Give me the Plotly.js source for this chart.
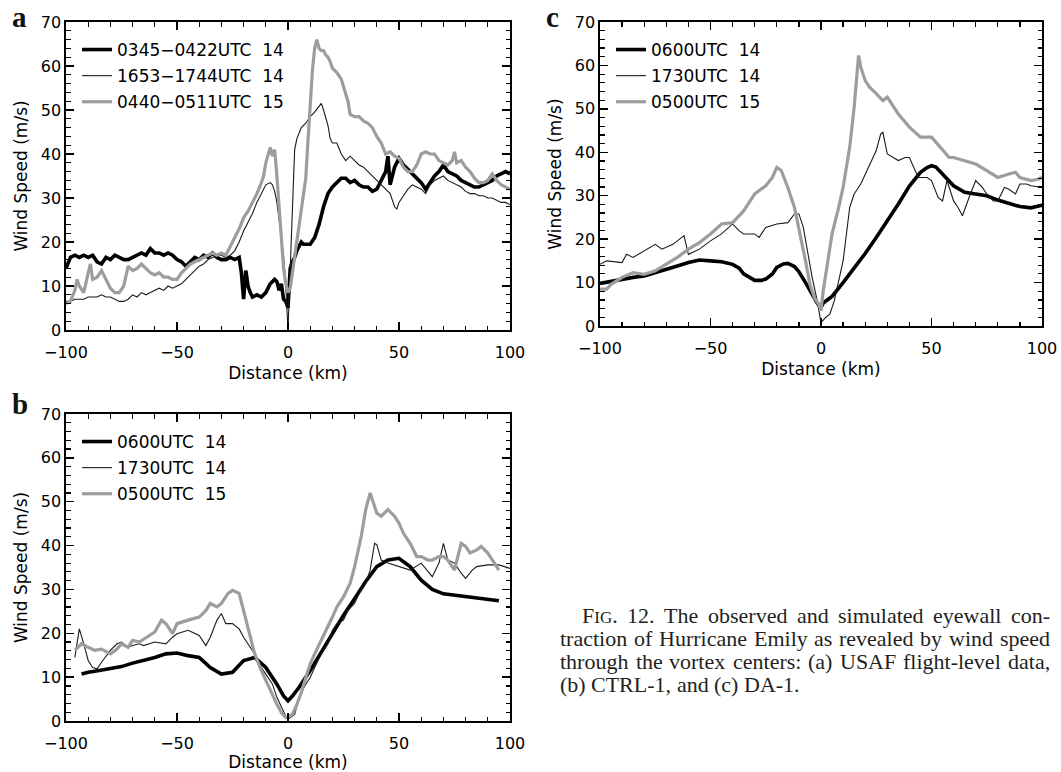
<!DOCTYPE html>
<html><head><meta charset="utf-8">
<script src="https://cdn.plot.ly/plotly-3.0.1.min.js"></script>
<style>html,body{margin:0;padding:0;background:#fff;} #chart{width:1061px;height:772px;}</style>
</head><body><div id="chart"></div>
<script>
// ---------- DATA ----------
// Panel a: USAF flight-level data
const a_names = ["0345\u22120422UTC\u00a0\u00a014", "1653\u22121744UTC\u00a0\u00a014", "0440\u22120511UTC\u00a0\u00a015"];
const a1_dist = [-100,-98,-96,-94,-92,-90,-88,-86,-84,-82,-80,-78,-76,-74,-72,-70,-68,-66,-64,-62,-60,-58,-56,-54,-52,-50,-48,-46,-44,-42,-40,-38,-36,-34,-32,-30,-28,-26,-24,-22,-21,-20,-19,-18,-17,-16,-14,-12,-10,-8,-6,-5,-4,-3,-2,-1,0,1,2,3,4,5,6,7,8,10,12,14,16,18,20,22,24,26,28,30,32,34,36,38,40,42,44,45,46,47,48,50,52,54,56,58,60,62,64,66,68,70,72,74,76,78,80,82,84,86,88,90,92,94,96,98,100];
const a1_wind = [14,16.5,17,16.5,17,16.5,17,15.5,15,16.5,16,17,16.5,16,16,16.5,17,17.5,17,18.5,17.5,17.5,17,17.5,17,16,15.5,14.5,15.5,16.5,16,17,16.5,17.5,16.5,16,16,16.5,16,16.5,13,7,13.5,10,8.5,7.5,8,7.5,8.5,10.5,11.5,11,9,10.5,7,6.5,5,14,15.5,16.5,18,19,20,19.5,19.5,19.5,21,24,28,31,32.5,33.5,34.5,34.5,33.5,34,33,32.5,32.5,31.5,32,34,36,39.5,33,35,37,39,37.5,36.5,35.5,34.5,33.5,32,33.5,35,36,37.5,36,35.5,35,34,33.5,33,32.5,32.5,33,33.5,34,35,35.5,36,35.5];
const a2_dist = [-100,-98,-96,-94,-92,-90,-88,-86,-84,-82,-80,-78,-76,-74,-72,-70,-68,-66,-64,-62,-60,-58,-56,-54,-52,-50,-48,-46,-44,-42,-40,-38,-36,-34,-32,-30,-28,-26,-24,-22,-20,-18,-16,-14,-12,-10,-8,-7,-6,-5,-4,-3,-2,-1,0,1,2,3,4,5,6,8,10,12,14,15,16,17,18,19,20,22,24,26,28,30,32,34,36,38,40,42,44,46,48,49,50,52,54,56,58,60,62,64,66,68,70,72,74,76,78,80,82,84,86,88,90,92,94,96,98,100];
const a2_wind = [6.5,6.5,7,7,7,7.5,7.5,7.5,8,7.5,7.5,7,6.5,6.5,7,8,7.5,8.5,8,8.5,9,9.5,9,10,9.5,10,10.5,11.5,12.5,13.5,14.5,15,16,16.5,17,17,16.5,17,18,20,22.5,24.5,26.5,29,31,33,33.5,33,31.5,29,25,21,17,10,0,14,30,41,43.5,45,46,47,48.5,49.5,51,51.5,50,48.5,46.5,43.5,42.5,42.5,40,38.5,39.5,38.5,37.5,37,36,35,34,33,32,31,28,27.5,29,30.5,32,33,32.5,32,31,33,34,34.5,35,34,33.5,33,32.5,31.5,31,31,30.5,30.5,30,30,29.5,29,29,28.5];
const a3_dist = [-100,-98,-96,-95,-94,-92,-90,-89,-88,-86,-84,-82,-80,-78,-76,-74,-72,-70,-68,-66,-64,-62,-60,-58,-56,-54,-52,-50,-48,-46,-44,-42,-40,-38,-36,-34,-32,-30,-28,-26,-24,-22,-20,-18,-16,-14,-12,-11,-10,-9,-8,-7,-6,-5,-4,-3,-2,-1,0,1,2,3,4,5,6,7,8,9,10,11,12,13,14,15,16,17,18,19,20,22,24,26,27,28,30,32,34,36,38,40,42,44,46,48,50,52,54,56,58,60,62,64,66,68,70,72,74,75,76,78,80,82,84,86,88,90,92,94,96,98,100];
const a3_wind = [6,6.5,9,11.5,10,8.5,13,15,11.5,12,13.5,11.5,9.5,8.5,8.5,10,14.5,13.5,14,15,14,13,12.5,13,12,12,11.5,11.5,13,14,15,15.5,16,16.5,17,17.5,17,17.5,17,19,21,23,25.5,27,29,31,33.5,35,38,40,41.5,39.5,41,35,28,20,14,10.5,8.5,9.5,13,17,21,24,27.5,31,34.5,43,52,59,64,66,64,63.5,63.5,62.5,62,61,59.5,58.5,57,54,52,49,48.5,48.5,47.5,47,46,44,42.5,40,40.5,39.5,39,37,36,36,37.5,40,40.5,40,40,38.5,38,37.5,38.5,40.5,38,38.5,37,36,34.5,33.5,33.5,34,35.5,34,33,32.5,32];

// Panel b: CTRL-1
const bc_names = ["0600UTC\u00a0\u00a014", "1730UTC\u00a0\u00a014", "0500UTC\u00a0\u00a015"];
const b1_dist = [-93,-90,-85,-80,-75,-70,-65,-60,-55,-50,-45,-40,-35,-30,-25,-20,-15,-10,-5,-2,0,2,5,10,15,20,25,30,35,40,45,50,55,60,65,70,75,80,85,90,95];
const b1_wind = [10.7,11.1,11.5,11.9,12.4,13.2,13.8,14.5,15.3,15.5,14.9,14.5,12.2,10.7,11.1,13.8,14.5,12.2,8.4,5.7,4.6,5.7,7.7,11.5,15.7,19.9,24.1,27.9,31.8,35.2,36.7,37.1,35.2,32.1,30,29,28.7,28.3,28,27.7,27.4];
const b2_dist = [-96,-94,-92,-90,-88,-86,-84,-80,-77,-75,-72,-70,-67,-65,-60,-55,-52,-50,-45,-40,-37,-35,-32,-30,-28,-25,-22,-20,-15,-12,-10,-7,-5,-3,-1,0,3,4,6,8,10,12,15,18,20,22,25,27,30,32,35,37,39,40,42,45,50,55,60,63,65,68,70,72,75,78,80,83,85,90,95,100];
const b2_wind = [14.5,21,17.6,13.8,12.2,11.9,13.4,16.1,17.6,18,16.8,17.2,17.6,17.2,18,17.6,19.1,19.9,20.7,19.5,17.2,19.1,23,24.5,22.2,22.2,21,19.1,15.3,12.2,10.7,8.4,5.4,3.1,1.1,0.4,1.5,3.4,6.5,8.4,9.9,12.2,15.3,17.6,20.7,22.2,23,25.2,26.8,29.1,31.4,34.4,40.5,40.2,36.7,36,35.2,34.4,36,34,32.9,36,40.5,36.7,36,33.7,32.5,34.4,35.2,35.6,35.6,34.8];
const b3_dist = [-96,-93,-90,-87,-84,-80,-77,-75,-72,-70,-67,-65,-60,-57,-55,-52,-50,-45,-40,-37,-35,-32,-30,-27,-25,-22,-20,-17,-15,-12,-10,-7,-5,-3,-1,0,2,4,6,8,10,12,15,18,20,22,25,28,30,33,35,37,38,40,42,45,48,50,52,55,58,60,63,65,68,70,72,75,78,80,82,85,87,90,93,95];
const b3_wind = [16.1,17.6,16.8,16.1,16.4,15.3,16.4,17.6,16.8,18.4,18,18.7,20.3,23,22.2,19.9,22.2,23,23.7,25.2,26.8,26,26.8,29.1,29.8,29.1,25.2,19.1,15.3,11.5,9.2,6.1,3.8,1.9,0.8,0.9,1.5,3.8,6.5,9.9,13,15.3,18.4,21.4,23.7,26,28.3,31.4,35.2,42.1,48.2,52,50.5,47.4,46.7,48.2,46.7,45.1,42.8,40.5,37.5,37.5,36.7,36.7,37.5,37.5,36.7,34.4,40.5,39.8,38.3,39,39.8,38.3,36,34.4];

// Panel c: DA-1
const c1_dist = [-100,-95,-90,-85,-80,-75,-70,-65,-60,-55,-50,-45,-40,-37,-35,-32,-30,-27,-25,-22,-20,-17,-15,-12,-10,-7,-5,-3,-2,-1,0,1,3,5,10,15,20,25,30,35,40,45,48,50,52,55,60,65,70,75,80,85,90,95,100];
const c1_wind = [9.8,10.3,10.8,11.2,11.5,12.2,13.1,13.8,14.6,15.2,15,14.8,14.2,13.3,12,11,10.5,10.5,10.8,12,13.5,14.3,14.4,13.7,12.5,10,8.1,6.3,5.5,4.8,4.2,5.3,6,6.8,10,13.2,16.7,20.4,24.2,28.1,32.2,35.4,36.5,36.9,36.6,35,32.3,30.8,30.4,30,29,28.2,27.5,27.2,27.8];
const c2_dist = [-100,-97,-90,-88,-85,-80,-75,-72,-70,-67,-65,-62,-60,-55,-50,-45,-40,-37,-35,-30,-28,-25,-20,-15,-12,-10,-8,-6,-4,-2,0,2,4,6,8,10,13,15,18,20,22,25,27,28,30,33,35,38,40,42,44,48,50,53,55,57,60,62,64,67,70,73,75,78,80,83,85,88,90,93,95,100];
const c2_wind = [14.2,15,14.6,16.5,15.8,17.3,18.8,17.7,18.1,18.8,19.6,20.8,16.5,17.7,19.6,21.2,23.5,21.9,21.2,21.2,20.4,22.7,23.5,23.8,25.8,25.8,22.7,16.5,11.2,6.5,0.8,1.9,2.7,5.8,10.4,15,27.3,30.4,32.7,35,37.3,40.4,44.2,44.6,39.6,38.8,38.1,38.8,38.8,36.5,34.2,34.2,33.5,29.6,28.8,33.5,28.8,27.3,25.4,29.6,33.5,31.9,30.4,28.8,28.8,31.9,31.5,30.4,32.7,32.7,32.3,31.9];
const c3_dist = [-100,-97,-95,-90,-85,-80,-75,-70,-65,-60,-55,-50,-45,-40,-35,-30,-25,-22,-20,-18,-15,-12,-10,-7,-5,-3,-1,0,1,3,5,8,10,13,15,17,18,20,22,25,28,30,33,35,40,45,50,55,58,60,65,70,75,80,85,88,90,95,98,100];
const c3_wind = [8.5,8.5,9.6,11.2,12.3,11.9,12.7,14.2,15.8,17.7,19.2,21.2,23.5,23.8,26.5,30.4,32.3,34.2,36.5,35.8,31.9,27.3,22.7,15,9.6,6.5,5,3.5,8.1,15,21.2,27.3,31.9,41.2,50.4,62.3,59.6,56.5,55,53.5,51.9,52.7,50.4,48.8,45.8,43.5,43.5,40.4,38.8,38.8,38.1,37.3,35.8,34.2,35,35.4,34.2,33.5,33.8,34.2];

// ---------- LAYOUT HELPERS ----------
const W = 1061, H = 772;
const FONT = "DejaVu Sans";
const SERIF = "Liberation Serif";
const panels = {
  a: {l: 66, r: 510, t: 22, b: 330},
  b: {l: 66, r: 510, t: 414, b: 721},
  c: {l: 600, r: 1042, t: 22, b: 326}
};
const styles = [
  {color: "#000000", width: 3.6},
  {color: "#1a1a1a", width: 1.1},
  {color: "#9d9d9d", width: 3.2}
];
function yfrac(p) { return 1 - p / H; }

// frame axis: box with inward major + minor ticks, no labels
function xFrame(p, anchor) {
  return {
    domain: [p.l / W, p.r / W], anchor: anchor, range: [-100, 100],
    tick0: -100, dtick: 50, ticks: "inside", ticklen: 8, tickwidth: 1.4, tickcolor: "#000",
    showline: true, linecolor: "#000", linewidth: 1.6, mirror: "ticks",
    showgrid: false, zeroline: false, showticklabels: false,
    minor: {tick0: -100, dtick: 10, ticks: "inside", ticklen: 4.5, tickwidth: 1.2, tickcolor: "#000", showgrid: false},
    fixedrange: true
  };
}
// label axis overlaid on the frame axis: carries the tick labels and title, set a bit below the frame
function xLabels(over, anchor) {
  return {
    overlaying: over, anchor: anchor, side: "bottom", range: [-100, 100],
    tick0: -100, dtick: 50, ticks: "outside", ticklen: 8, tickcolor: "rgba(0,0,0,0)",
    showline: false, showgrid: false, zeroline: false,
    tickfont: {family: FONT, size: 16, color: "#000"},
    title: {text: "Distance (km)", font: {family: FONT, size: 17, color: "#000"}, standoff: 5},
    fixedrange: true
  };
}
function yAxis(p, anchor) {
  return {
    domain: [1 - p.b / H, 1 - p.t / H], anchor: anchor, range: [0, 70],
    tick0: 0, dtick: 10, ticks: "inside", ticklen: 8, tickwidth: 1.4, tickcolor: "#000",
    showline: true, linecolor: "#000", linewidth: 1.6, mirror: "ticks",
    showgrid: false, zeroline: false,
    tickfont: {family: FONT, size: 16, color: "#000"},
    minor: {tick0: 0, dtick: 2, ticks: "inside", ticklen: 4.5, tickwidth: 1.2, tickcolor: "#000", showgrid: false},
    title: {text: "Wind Speed (m/s)", font: {family: FONT, size: 17, color: "#000"}, standoff: 9},
    fixedrange: true
  };
}
function legendBox(p) {
  return {
    x: (p.l + 11) / W, y: yfrac(p.t + 10), xanchor: "left", yanchor: "top",
    bgcolor: "rgba(0,0,0,0)", borderwidth: 0,
    font: {family: FONT, size: 17, color: "#000"},
    traceorder: "grouped", tracegroupgap: 1
  };
}

const traces = [];
function addSet(dists, winds, names, xa, ya, leg, tag) {
  for (let i = 0; i < 3; i++) {
    traces.push({
      type: "scatter", mode: "lines", x: dists[i], y: winds[i], name: names[i],
      xaxis: xa, yaxis: ya, legend: leg, legendgroup: tag + i,
      line: {color: styles[i].color, width: styles[i].width}, hoverinfo: "skip"
    });
  }
}
addSet([a1_dist, a2_dist, a3_dist], [a1_wind, a2_wind, a3_wind], a_names, "x", "y", "legend", "a");
addSet([b1_dist, b2_dist, b3_dist], [b1_wind, b2_wind, b3_wind], bc_names, "x2", "y2", "legend2", "b");
addSet([c1_dist, c2_dist, c3_dist], [c1_wind, c2_wind, c3_wind], bc_names, "x3", "y3", "legend3", "c");
// empty placeholder traces so that the overlaid label axes are drawn (they carry no data)
[["x4", "y"], ["x5", "y2"], ["x6", "y3"]].forEach(function (p) {
  traces.push({type: "scatter", mode: "lines", x: [], y: [], xaxis: p[0], yaxis: p[1], showlegend: false, hoverinfo: "skip"});
});

// ---------- ANNOTATIONS ----------
const annotations = [];
const letters = [["a", 19, 1], ["b", 20, 388], ["c", 552, 1]];
letters.forEach(function (L) {
  annotations.push({xref: "paper", yref: "paper", x: L[1] / W, y: yfrac(L[2]), xanchor: "center", yanchor: "top",
    text: L[0], showarrow: false, borderpad: 0, borderwidth: 0,
    font: {family: SERIF, size: 29, weight: "bold", color: "#111"}});
});

// caption, justified like the journal text
const captionLines = [
  "FIG. 12. The observed and simulated eyewall con-",
  "traction of Hurricane Emily as revealed by wind speed",
  "through the vortex centers: (a) USAF flight-level data,",
  "(b) CTRL-1, and (c) DA-1."
];
const capSize = 22, capSmall = 17;
const capStart = [582, 560, 560, 560], capY = [615, 638, 661, 684], capRight = 1050;
const cv = document.createElement("canvas").getContext("2d");
function tw(s, size) { cv.font = size + "px '" + SERIF + "'"; return cv.measureText(s).width; }
captionLines.forEach(function (line, li) {
  const items = line.split(" ").map(function (w) {
    if (w === "FIG.") return {text: 'F<span style="font-size:' + capSmall + 'px">IG</span>.', w: tw("F", capSize) + tw("IG", capSmall) + tw(".", capSize)};
    return {text: w, w: tw(w, capSize)};
  });
  const total = items.reduce(function (s, it) { return s + it.w; }, 0);
  const justify = li < captionLines.length - 1;
  const gap = justify ? (capRight - capStart[li] - total) / (items.length - 1) : tw(" ", capSize);
  let xpos = capStart[li];
  items.forEach(function (it) {
    annotations.push({xref: "paper", yref: "paper", x: xpos / W, y: yfrac(capY[li]), xanchor: "left", yanchor: "middle",
      text: it.text, showarrow: false, borderpad: 0, borderwidth: 0,
      font: {family: SERIF, size: capSize, color: "#231f20"}});
    xpos += it.w + gap;
  });
});

const layout = {
  width: W, height: H, margin: {l: 0, r: 0, t: 0, b: 0},
  paper_bgcolor: "#ffffff", plot_bgcolor: "#ffffff",
  showlegend: true,
  xaxis: xFrame(panels.a, "y"), yaxis: yAxis(panels.a, "x"),
  xaxis2: xFrame(panels.b, "y2"), yaxis2: yAxis(panels.b, "x2"),
  xaxis3: xFrame(panels.c, "y3"), yaxis3: yAxis(panels.c, "x3"),
  xaxis4: xLabels("x", "y"), xaxis5: xLabels("x2", "y2"), xaxis6: xLabels("x3", "y3"),
  legend: legendBox(panels.a), legend2: legendBox(panels.b), legend3: legendBox(panels.c),
  annotations: annotations
};
Plotly.newPlot("chart", traces, layout, {staticPlot: true, displayModeBar: false});
</script></body></html>
